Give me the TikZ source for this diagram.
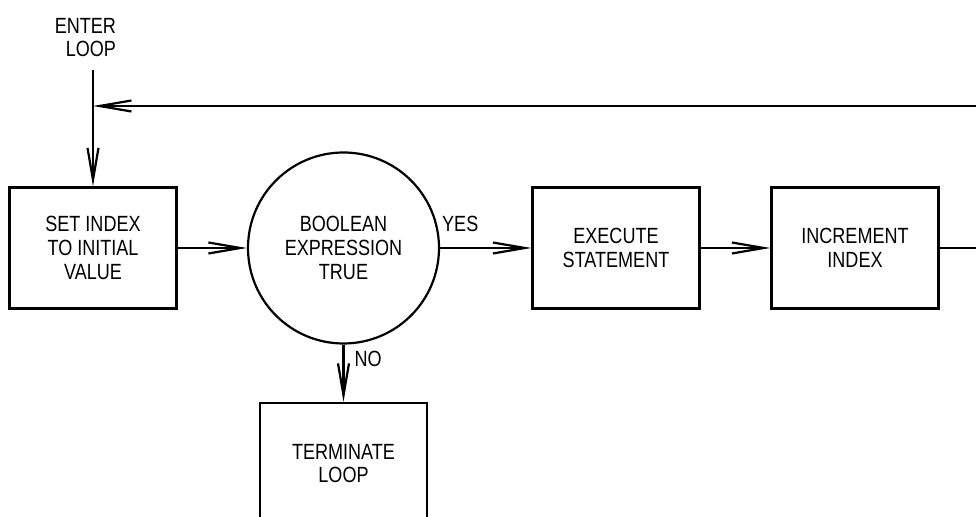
\documentclass[tikz,border=0pt]{standalone}
\usepackage{fontspec}
\setmainfont{Liberation Sans}[FakeStretch=0.82]
\usetikzlibrary{arrows.meta}

\begin{document}
\begin{tikzpicture}[x=0.5pt,y=-0.5pt,line width=1.1pt,
		box/.style={draw,rectangle,minimum width=83.5pt,minimum height=60.5pt,align=center,inner sep=0},
		decide/.style={draw,circle,minimum size=95.5pt,align=center,inner sep=0},
		flow/.style={-{Straight Barb[length=16pt,width=5.5pt]}},
		lbl/.style={inner sep=0},
		font=\fontsize{11}{11.8}\selectfont]
			\useasboundingbox (0,0) rectangle (976,517);
			\clip (0,0) rectangle (976,517);
			% nodes
			\node[lbl,align=right,anchor=north east] (enter) at (117,17) {ENTER\\LOOP};
			\node[box] (setidx) at (93,248) {SET INDEX\\TO INITIAL\\VALUE};
			\node[decide] (test) at (343.5,248) {BOOLEAN\\EXPRESSION\\TRUE};
			\node[box] (exec) at (616,248) {EXECUTE\\STATEMENT};
			\node[box] (incr) at (855,248) {INCREMENT\\INDEX};
			\node[box] (term) at (343.5,463.5) {TERMINATE\\LOOP};
			\coordinate (entry) at (93,70);
			\coordinate (join) at (93,106);
			\coordinate (back) at (1000,248);
			% connectors
			\draw[flow] (entry) -- (setidx);
			\draw[flow] (setidx) -- (test);
			\draw[flow] (test) -- node[lbl,at start,anchor=south west,xshift=0.5pt,yshift=7.5pt] {YES} (exec);
			\draw[flow] (exec) -- (incr);
			\draw[flow] (test) -- node[lbl,at start,anchor=north west,xshift=5pt,yshift=-2.5pt] {NO} (term);
			\draw[flow] (incr) -- (back) |- (join);
		\end{tikzpicture}
\end{document}
